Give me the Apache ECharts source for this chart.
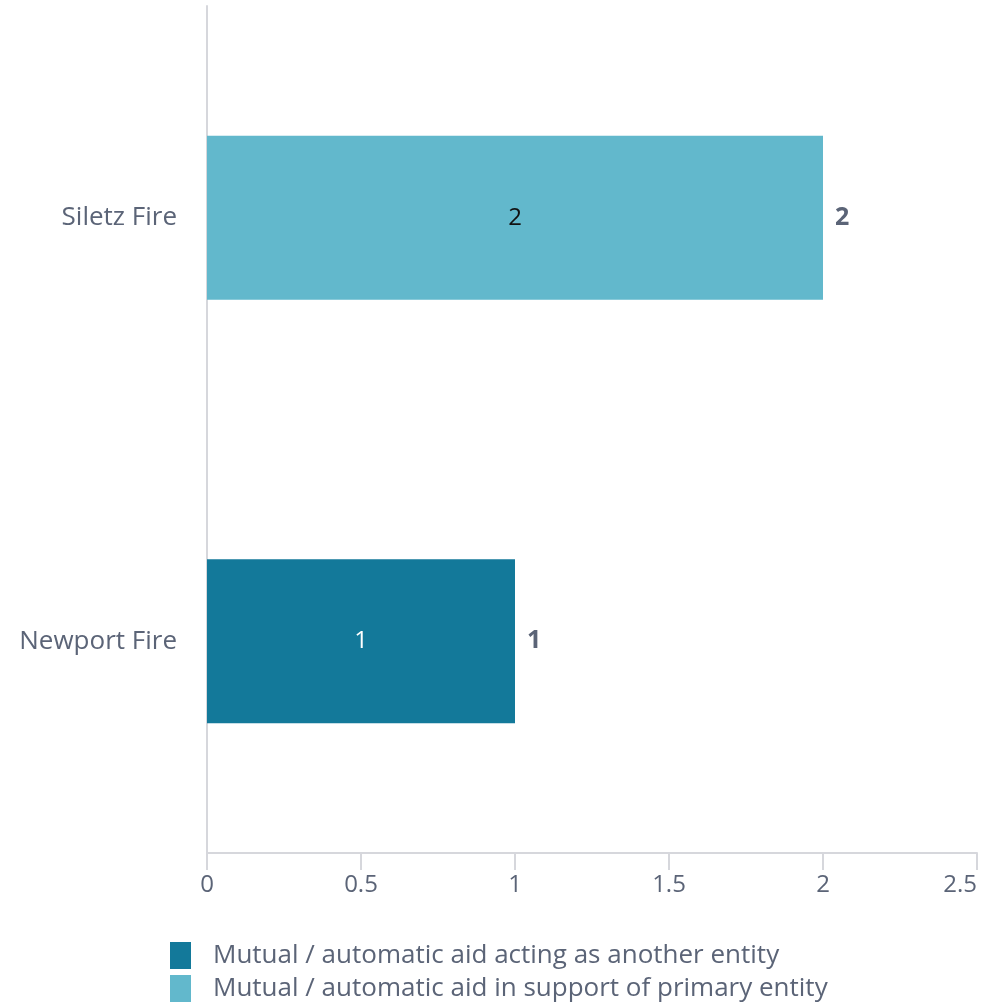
<!DOCTYPE html>
<html><head><meta charset="utf-8">
<script src="https://cdn.jsdelivr.net/npm/echarts@6/dist/echarts.min.js"></script>
<style>html,body{margin:0;padding:0;background:#fff}#c{width:1000px;height:1007px}</style>
</head><body><div id="c"></div>
<script>
const categories = ['Newport Fire', 'Siletz Fire'];
const actingAsAnother = [1, 0];
const inSupport = [0, 2];
const totals = categories.map((c, i) => actingAsAnother[i] + inSupport[i]);
const xTicks = [0, 0.5, 1, 1.5, 2, 2.5];
const seriesNames = ['Mutual / automatic aid acting as another entity', 'Mutual / automatic aid in support of primary entity'];

const FONT = '"Open Sans", sans-serif';
const TXT = '#5b6477';
const chart = echarts.init(document.getElementById('c'), null, {renderer: 'canvas'});
chart.setOption({
  animation: false,
  textStyle: {fontFamily: FONT},
  grid: {left: 207, right: 23, top: 6, bottom: 154, containLabel: false},
  legend: {
    data: seriesNames, orient: 'vertical', left: 170, top: 942, height: 70, padding: 0,
    itemWidth: 21, itemHeight: 27, itemGap: 6,
    icon: 'rect',
    textStyle: {fontFamily: FONT, fontSize: 26, color: TXT, padding: [6, 0, 0, 17]}
  },
  xAxis: {
    type: 'value', min: xTicks[0], max: xTicks[xTicks.length - 1], interval: 0.5,
    axisLine: {show: true, lineStyle: {color: '#d6d7dc', width: 2}},
    axisTick: {show: true, length: 17, lineStyle: {color: '#d6d7dc', width: 2}},
    splitLine: {show: false},
    axisLabel: {fontFamily: FONT, fontSize: 24, color: TXT, margin: 20, alignMaxLabel: 'right',
      formatter: v => String(v)}
  },
  yAxis: {
    type: 'category', data: categories,
    axisLine: {show: true, lineStyle: {color: '#d6d7dc', width: 2}},
    axisTick: {show: false},
    axisLabel: {fontFamily: FONT, fontSize: 26, color: TXT, margin: 30}
  },
  series: [
    {
      name: seriesNames[0], type: 'bar', stack: 'a', data: actingAsAnother,
      barWidth: 164, itemStyle: {color: '#13799a'},
      label: {show: true, position: 'inside', color: '#ffffff', fontFamily: FONT, fontSize: 24,
        formatter: p => p.value ? String(p.value) : ''}
    },
    {
      name: seriesNames[1], type: 'bar', stack: 'a', data: inSupport,
      barWidth: 164, itemStyle: {color: '#62b8cc'},
      label: {show: true, position: 'inside', color: '#111111', fontFamily: FONT, fontSize: 24,
        formatter: p => p.value ? String(p.value) : ''}
    },
    {
      name: 'Total', type: 'bar', stack: 'a', data: categories.map(() => 0),
      barWidth: 164, itemStyle: {color: 'rgba(0,0,0,0)'},
      label: {show: true, position: 'right', distance: 12, color: TXT, fontFamily: FONT, fontSize: 25, fontWeight: 'bold',
        formatter: p => String(totals[p.dataIndex])}
    }
  ]
});
</script></body></html>
